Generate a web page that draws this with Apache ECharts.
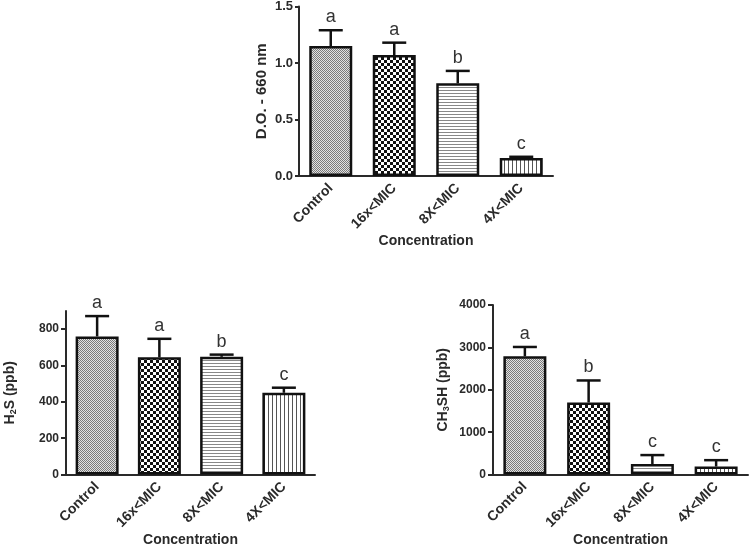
<!DOCTYPE html>
<html>
<head>
<meta charset="utf-8">
<script src="https://cdn.jsdelivr.net/npm/echarts@6/dist/echarts.min.js"></script>
<style>
  html, body { margin: 0; padding: 0; background: #fff; }
  #d_chart { width: 750px; height: 548px; }
</style>
</head>
<body>
<div id="d_chart"></div>
<script>
// data
var categories = ['Control', '16x<MIC', '8X<MIC', '4X<MIC']
var odMeans = [1.15, 1.07, 0.82, 0.16]
var odErrors = [0.14, 0.11, 0.11, 0.01]
var odLetters = ['a', 'a', 'b', 'c']
var h2sMeans = [760, 645, 648, 450]
var h2sErrors = [112, 102, 12, 28]
var h2sLetters = ['a', 'a', 'b', 'c']
var ch3Means = [2790, 1700, 250, 190]
var ch3Errors = [220, 520, 210, 150]
var ch3Letters = ['a', 'b', 'c', 'c']
var h2sTicks = [0, 200, 400, 600, 800]

var FONT = '"Liberation Sans", Arial, sans-serif'
var INK = '#2a2a2a'

// fill patterns for the four bars
function makePattern (kind) {
  var c = document.createElement('canvas')
  var ctx = c.getContext('2d')
  if (kind === 'fine') {
    c.width = 2; c.height = 2
    ctx.fillStyle = '#e2e2e2'; ctx.fillRect(0, 0, 2, 2)
    ctx.fillStyle = '#7a7a7a'; ctx.fillRect(0, 0, 1, 1); ctx.fillRect(1, 1, 1, 1)
  } else if (kind === 'check') {
    c.width = 6; c.height = 6
    ctx.fillStyle = '#fff'; ctx.fillRect(0, 0, 6, 6)
    ctx.fillStyle = '#111'; ctx.fillRect(0, 0, 3, 3); ctx.fillRect(3, 3, 3, 3)
  } else if (kind === 'hlines') {
    c.width = 4; c.height = 3
    ctx.fillStyle = '#fff'; ctx.fillRect(0, 0, 4, 3)
    ctx.fillStyle = '#888'; ctx.fillRect(0, 0, 4, 1)
  } else {
    c.width = 4; c.height = 4
    ctx.fillStyle = '#fff'; ctx.fillRect(0, 0, 4, 4)
    ctx.fillStyle = '#555'; ctx.fillRect(0, 0, 1, 4)
  }
  return { image: c, repeat: 'repeat' }
}
var patterns = [makePattern('fine'), makePattern('check'), makePattern('hlines'), makePattern('vlines')]

var grids = [
  { left: 299, width: 254, top: 6, height: 170 },
  { left: 66, width: 249, top: 311, height: 166 },
  { left: 493, width: 255, top: 305, height: 171 }
]

function xAxisFor (i, gap) {
  return {
    type: 'category',
    gridIndex: i,
    data: categories,
    name: 'Concentration',
    nameLocation: 'middle',
    nameGap: gap,
    nameTextStyle: { fontFamily: FONT, fontWeight: 'bold', fontSize: 14, color: INK },
    axisLine: { lineStyle: { color: INK, width: 2 } },
    axisTick: { alignWithLabel: true, length: 6, lineStyle: { color: INK, width: 2 } },
    axisLabel: { rotate: 45, margin: 10, fontFamily: FONT, fontWeight: 'bold', fontSize: 14, color: INK, interval: 0 }
  }
}

function yAxisFor (i, name, gap, max, interval, fs, extra) {
  var ax = {
    type: 'value',
    gridIndex: i,
    min: 0,
    max: max,
    interval: interval,
    name: name,
    nameLocation: 'middle',
    nameGap: gap,
    nameRotate: 90,
    nameTextStyle: {
      fontFamily: FONT, fontWeight: 'bold', fontSize: 14, color: INK,
      rich: {
        n: { fontFamily: FONT, fontWeight: 'bold', fontSize: 14, color: INK },
        s: { fontFamily: FONT, fontWeight: 'bold', fontSize: 9, color: INK, verticalAlign: 'bottom', padding: [6, 0, 0, 0] }
      }
    },
    splitLine: { show: false },
    axisLine: { show: true, lineStyle: { color: INK, width: 2 } },
    axisTick: { show: true, length: 5, lineStyle: { color: INK, width: 2 } },
    axisLabel: {
      margin: 7, fontFamily: FONT, fontWeight: 'bold', fontSize: fs, color: INK,
      formatter: function (v) { return String(v) }
    }
  }
  if (extra) extra(ax)
  return ax
}

function barSeries (i, means) {
  return {
    type: 'bar',
    xAxisIndex: i,
    yAxisIndex: i,
    barWidth: 43,
    data: means.map(function (v, k) {
      return { value: v, itemStyle: { color: patterns[k], borderColor: '#111', borderWidth: 2.5 } }
    }),
    z: 2
  }
}

function errorSeries (i, means, errors, letters) {
  return {
    type: 'custom',
    xAxisIndex: i,
    yAxisIndex: i,
    z: 3,
    data: means.map(function (v, k) { return [k, v, v + errors[k]] }),
    renderItem: function (params, api) {
      var base = api.coord([api.value(0), api.value(1)])
      var top = api.coord([api.value(0), api.value(2)])
      var hw = 12
      return {
        type: 'group',
        children: [
          { type: 'line', shape: { x1: base[0], y1: base[1], x2: top[0], y2: top[1] }, style: { stroke: '#111', lineWidth: 2.5 } },
          { type: 'line', shape: { x1: top[0] - hw, y1: top[1], x2: top[0] + hw, y2: top[1] }, style: { stroke: '#111', lineWidth: 2.5 } },
          {
            type: 'text',
            x: top[0],
            y: top[1] - 4,
            style: {
              text: letters[params.dataIndex],
              fontFamily: FONT, fontSize: 18, fill: '#333',
              align: 'center', verticalAlign: 'bottom'
            }
          }
        ]
      }
    }
  }
}

var chart = echarts.init(document.getElementById('d_chart'))
var option = {
  animation: false,
  backgroundColor: '#fff',
  grid: grids,
  xAxis: [xAxisFor(0, 57), xAxisFor(1, 56), xAxisFor(2, 56)],
  yAxis: [
    yAxisFor(0, 'D.O. - 660 nm', 30, 1.5, 0.5, 13, function (ax) {
      ax.axisLabel.formatter = function (v) { return v.toFixed(1) }
      ax.axisLabel.margin = 6
      ax.axisTick.length = 4
      ax.nameTextStyle.fontSize = 15
    }),
    yAxisFor(1, '{n|H}{s|2}{n|S (ppb)}', 48, 900, 100, 12, function (ax) {
      ax.axisLabel.customValues = h2sTicks
      ax.axisTick.customValues = h2sTicks
    }),
    yAxisFor(2, '{n|CH}{s|3}{n|SH (ppb)}', 42, 4000, 1000, 12)
  ],
  series: [
    barSeries(0, odMeans),
    errorSeries(0, odMeans, odErrors, odLetters),
    barSeries(1, h2sMeans),
    errorSeries(1, h2sMeans, h2sErrors, h2sLetters),
    barSeries(2, ch3Means),
    errorSeries(2, ch3Means, ch3Errors, ch3Letters)
  ]
}
chart.setOption(option, true)
window.addEventListener('resize', function () {
  chart.resize()
})
</script>
</body>
</html>
